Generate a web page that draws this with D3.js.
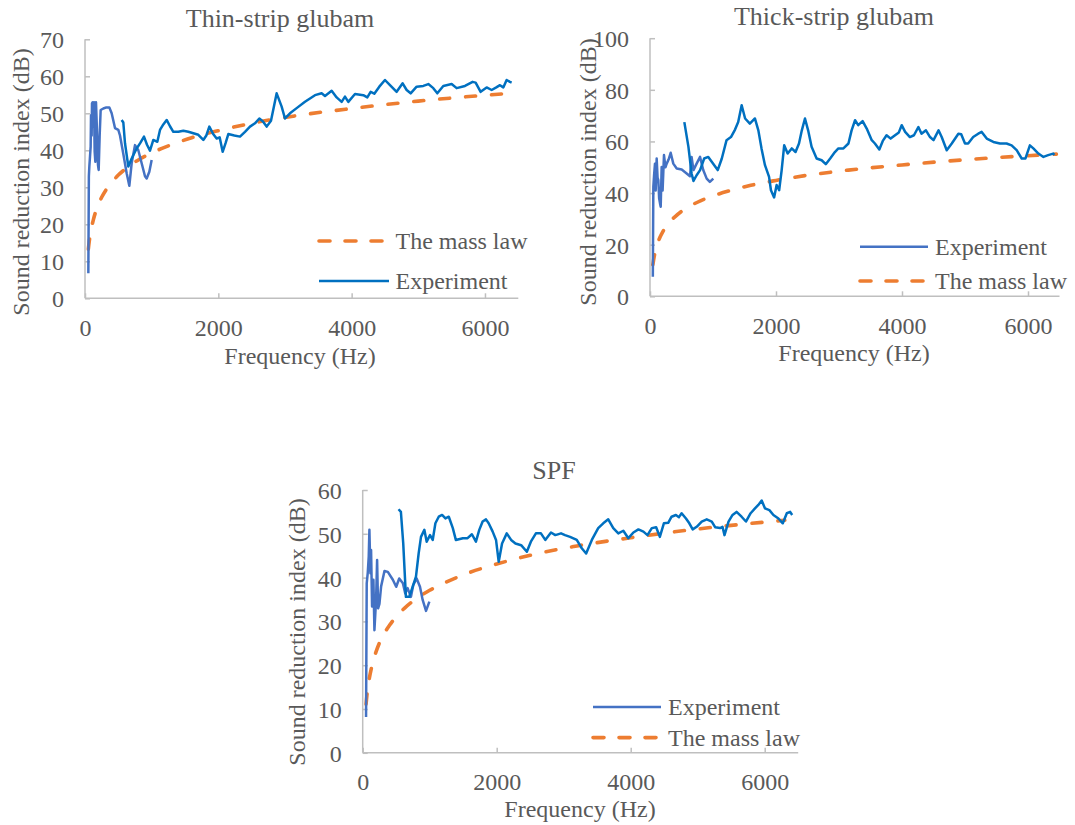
<!DOCTYPE html>
<html><head><meta charset="utf-8">
<script src="https://cdn.jsdelivr.net/npm/d3@7"></script>
<style>
body{margin:0;background:#fff}
text{font-family:"Liberation Serif","Times New Roman",serif;fill:#595959}
</style>
</head><body>
<svg id="chart" width="1075" height="825"></svg>
<script>
// ---------- data (frequency Hz, sound reduction index dB) ----------
const xTicks = [0, 2000, 4000, 6000];
const thinYTicks = [0, 10, 20, 30, 40, 50, 60, 70];
const thickYTicks = [0, 20, 40, 60, 80, 100];
const spfYTicks = [0, 10, 20, 30, 40, 50, 60];
const legendLabels = ["Experiment", "The mass law"];
const titles = ["Thin-strip glubam", "Thick-strip glubam", "SPF"];

const thinLow = [[50,6.8],[58,33],[65,35.6],[75,38.3],[85,41],[90,49.5],[100,44],[105,52.7],[115,53],[125,46.4],[135,53],[145,39.6],[155,36.9],[165,53],[180,45],[195,36],[205,34.7],[220,44],[235,50.9],[275,51.3],[320,51.6],[365,51.6],[400,50],[450,46],[500,45.5],[525,44],[575,39],[625,33.8],[665,30.4],[700,36.5],[750,41.4],[800,40],[850,36.5],[900,33],[925,32.4],[965,34.2],[1000,37.4]];
const thinMain = [[550,48.2],[575,47.5],[600,41.9],[650,35.6],[700,37.8],[775,40.5],[830,42],[885,43.7],[930,41.5],[975,39.9],[1025,42.8],[1085,42.3],[1125,45.5],[1175,47],[1225,48.2],[1275,46.5],[1325,45],[1400,45],[1475,45.3],[1550,45],[1625,44.6],[1700,44.2],[1775,42.8],[1820,44],[1865,46.4],[1920,44.5],[1975,43.2],[2020,43.5],[2065,39.6],[2110,42],[2150,44.4],[2240,44],[2325,43.7],[2400,45],[2475,46.4],[2550,47.3],[2615,48.6],[2670,47.8],[2725,46.4],[2790,48],[2875,55.4],[2950,51.8],[3000,48.6],[3075,50],[3175,51.4],[3300,53.1],[3450,54.9],[3550,55.4],[3600,54.7],[3700,56.1],[3775,54.3],[3850,53.1],[3900,54.5],[3950,53.1],[4050,55.2],[4175,54.9],[4235,54.3],[4285,55.8],[4340,55.3],[4415,57.2],[4500,59],[4575,57.6],[4675,55.8],[4765,58.1],[4825,56.3],[4885,55.4],[4975,57.2],[5075,57.4],[5150,57.9],[5225,56.8],[5285,55.4],[5375,57.4],[5500,57.9],[5575,56.8],[5700,57.4],[5815,58.5],[5860,58.3],[5935,55.8],[6025,57],[6100,56.3],[6170,57],[6225,57.6],[6275,57],[6325,59],[6375,58.5],[6400,58.3]];
const thinMass = [[50,13.3],[63,15.3],[80,17.4],[100,19.3],[125,21.2],[160,23.4],[200,25.3],[250,27.3],[315,29.3],[400,31.3],[500,33.3],[630,35.3],[800,37.4],[1000,39.3],[1250,41.2],[1600,43.4],[2000,45.3],[2500,47.3],[3150,49.3],[4000,51.3],[5000,53.3],[6300,55.3]];

const thickLow = [[45,7.6],[50,30],[53,42.4],[65,47],[79,51.4],[90,41],[106,53.4],[120,46],[132,45],[145,38],[159,36],[170,34.7],[185,50.1],[200,41],[222,54.7],[245,50],[265,51.4],[295,53],[328,55.6],[370,51.4],[424,49.5],[503,49.1],[582,47.6],[635,46.5],[660,54],[690,48.9],[740,51.4],[795,54],[845,48.9],[900,45.6],[950,44.3],[1005,45.6]];
const thickMain = [[545,67.5],[610,57.9],[660,47.6],[690,44.7],[740,46.9],[795,48.9],[860,53.4],[925,54],[980,52.1],[1075,48.9],[1140,53.4],[1215,60.5],[1285,61.7],[1350,64.6],[1400,67.5],[1455,74],[1510,68.9],[1585,66.9],[1665,68.9],[1720,64.3],[1770,57.3],[1825,50.8],[1890,46.3],[1920,41.1],[1970,38.3],[2010,43.1],[2050,41.1],[2090,48.9],[2130,58.5],[2185,55.3],[2250,57.3],[2310,55.9],[2365,59.2],[2410,64.3],[2460,68.9],[2510,64.3],[2565,57.9],[2645,53.4],[2725,52.7],[2790,51.2],[2860,53.4],[2935,55.9],[2990,57.3],[3070,57.3],[3150,59.2],[3200,64.3],[3255,68.2],[3305,66.3],[3375,67.9],[3440,65],[3520,60.5],[3570,59.2],[3640,56.9],[3695,60.2],[3755,62.4],[3820,61.1],[3890,62.4],[3950,63.5],[3995,66.3],[4050,63.7],[4125,61.7],[4190,62.4],[4260,65.6],[4310,63],[4380,64.3],[4445,61.7],[4500,60.5],[4580,64.3],[4630,61.7],[4710,56.6],[4790,59.2],[4895,63],[4940,62.8],[5000,59.2],[5050,59.2],[5130,61.7],[5210,63],[5265,63.7],[5345,61.1],[5450,59.8],[5555,59.2],[5660,59.2],[5740,58.5],[5820,56.6],[5900,53.4],[5960,53.4],[6030,58.5],[6085,57.3],[6165,55.3],[6245,54],[6320,54.7],[6400,55.3],[6420,54.8]];
const thickMass = [[45,12.2],[50,12.9],[63,14.9],[80,17.0],[100,18.9],[125,20.8],[160,23.0],[200,24.9],[250,26.9],[315,28.9],[400,30.9],[500,32.9],[630,34.9],[800,37.0],[1000,38.9],[1250,40.8],[1600,43.0],[2000,44.9],[2500,46.9],[3150,48.9],[4000,50.9],[5000,52.9],[6300,54.9],[6450,55.1]];

const spfLow = [[50,8.2],[60,38.7],[75,41],[90,44.8],[100,50.9],[115,41],[125,46.3],[140,33.4],[160,39.5],[175,28],[200,35],[215,44],[230,33],[250,34],[275,38],[325,41.5],[375,41.3],[450,39.5],[500,37.9],[545,39.8],[600,38.7],[635,36.4],[670,37.6],[720,35.6],[755,38.3],[805,39.8],[855,37.9],[895,34.9],[945,32.4],[995,34.5]];
const spfMain = [[535,55.6],[570,55],[605,47.8],[645,35.6],[695,35.6],[745,37.9],[795,40.2],[835,45.5],[870,49.3],[920,50.9],[955,48.2],[1005,49.7],[1045,48.6],[1085,52.4],[1135,53.9],[1185,54.3],[1235,53.5],[1285,53.9],[1345,51.3],[1390,48.6],[1495,49],[1565,49],[1630,49.9],[1690,48.2],[1740,50.9],[1790,52.8],[1840,53.3],[1880,52.4],[1940,50.5],[1990,48.6],[2030,43.6],[2080,47.8],[2150,50.1],[2215,48.6],[2280,47.8],[2365,47.4],[2450,45.9],[2510,48.2],[2585,50.1],[2660,50.1],[2725,48.6],[2810,50.3],[2875,49.7],[2960,50.1],[3020,49.7],[3095,49.3],[3195,48.6],[3270,46.7],[3335,45.5],[3420,48.6],[3515,51.3],[3590,52.4],[3665,53.3],[3740,51.3],[3815,50.1],[3890,50.7],[3965,49],[4040,50.3],[4115,51],[4190,50.5],[4250,49.7],[4315,51.3],[4380,51.5],[4435,49.3],[4495,52.4],[4560,52.5],[4610,53.9],[4675,54.3],[4720,53.8],[4760,54.7],[4825,53.5],[4875,52.4],[4925,51],[4985,51.6],[5060,52.8],[5135,53.3],[5210,52.8],[5260,51.5],[5335,51.3],[5370,51.6],[5400,49.7],[5460,52.8],[5520,54.3],[5580,55],[5655,53.9],[5720,52.8],[5790,54.7],[5855,55.8],[5905,56.6],[5955,57.6],[6005,55.8],[6070,55.4],[6130,54.3],[6205,53.5],[6270,52.4],[6330,54.7],[6380,55],[6410,54.3]];
const spfMass = [[50,11.1],[63,13.1],[80,15.2],[100,17.1],[125,19.0],[160,21.2],[200,23.1],[250,25.1],[315,27.1],[400,29.1],[500,31.1],[630,33.1],[800,35.2],[1000,37.1],[1250,39.0],[1600,41.2],[2000,43.1],[2500,45.1],[3150,47.1],[4000,49.1],[5000,51.1],[6300,53.1]];

// ---------- layout / styling ----------
const C_MAIN = "#0070C0", C_LOW = "#4472C4", C_MASS = "#ED7D31";
const FS = 24;
const panels = [
  {title: titles[0], low: thinLow, main: thinMain, mass: thinMass, yTicks: thinYTicks, yMax: 70,
   x0: 85, x1: 518.3, yb: 298.3, yt: 39.3, tX: 280, tY: 27, xtX: 300, xtY: 364, ytX: 20.5, ytY: 182,
   leg: {l1: 319, l2: 389, tx: 395.5, rows: [["mass", 241], ["exp", 281]], expColor: C_MAIN}},
  {title: titles[1], low: thickLow, main: thickMain, mass: thickMass, yTicks: thickYTicks, yMax: 100,
   x0: 650, x1: 1059.5, yb: 296.3, yt: 38.2, tX: 834, tY: 25, xtX: 854, xtY: 361, ytX: 587.5, ytY: 172,
   leg: {l1: 860, l2: 928, tx: 935, rows: [["exp", 246.7], ["mass", 281]], expColor: C_LOW}},
  {title: titles[2], low: spfLow, main: spfMain, mass: spfMass, yTicks: spfYTicks, yMax: 60,
   x0: 362.7, x1: 798.2, yb: 752.8, yt: 490, tX: 554, tY: 479, xtX: 580, xtY: 817, ytX: 297, ytY: 632,
   leg: {l1: 593, l2: 661, tx: 668, rows: [["exp", 707], ["mass", 737.6]], expColor: C_LOW}}
];

const svg = d3.select("#chart");

panels.forEach(p => {
  const x = d3.scaleLinear().domain([0, 6500]).range([p.x0, p.x1]);
  const y = d3.scaleLinear().domain([0, p.yMax]).range([p.yb, p.yt]);
  const g = svg.append("g");

  // axes
  const ax = g.append("g").attr("transform", `translate(0,${p.yb})`)
    .call(d3.axisBottom(x).tickValues(xTicks).tickSizeInner(-5).tickSizeOuter(0).tickFormat(d3.format("d")));
  const ay = g.append("g").attr("transform", `translate(${p.x0},0)`)
    .call(d3.axisLeft(y).tickValues(p.yTicks).tickSizeInner(-5).tickSizeOuter(0).tickFormat(d3.format("d")));
  [ax, ay].forEach(a => {
    a.select(".domain").attr("stroke", "#bfbfbf").attr("stroke-width", 1.5);
    a.selectAll(".tick line").attr("stroke", "#bfbfbf").attr("stroke-width", 1.5);
    a.selectAll("text").attr("font-size", FS).attr("fill", "#595959")
      .style("font-family", '"Liberation Serif","Times New Roman",serif');
  });
  ax.selectAll("text").attr("y", 29).attr("dy", "0.35em");
  ay.selectAll("text").attr("x", -21).attr("dy", "0.35em");
  ax.select(".domain").attr("d", `M${p.x0},0H${p.x1}`);
  ay.select(".domain").attr("d", `M0,${p.yb}V${p.yt}`);

  // lines
  const line = d3.line().x(d => x(d[0])).y(d => y(d[1]));
  const smooth = d3.line().x(d => x(d[0])).y(d => y(d[1])).curve(d3.curveMonotoneX);
  g.append("path").datum(p.mass).attr("d", smooth).attr("fill", "none")
    .attr("stroke", C_MASS).attr("stroke-width", 3.6).attr("stroke-dasharray", "10,16").attr("stroke-linecap", "round");
  g.append("path").datum(p.low).attr("d", line).attr("fill", "none")
    .attr("stroke", C_LOW).attr("stroke-width", 2.5).attr("stroke-linejoin", "round");
  g.append("path").datum(p.main).attr("d", line).attr("fill", "none")
    .attr("stroke", C_MAIN).attr("stroke-width", 2.5).attr("stroke-linejoin", "round");

  // titles
  g.append("text").attr("x", p.tX).attr("y", p.tY).attr("text-anchor", "middle")
    .attr("font-size", 26).text(p.title);
  g.append("text").attr("x", p.xtX).attr("y", p.xtY).attr("text-anchor", "middle")
    .attr("font-size", FS).text("Frequency (Hz)");
  g.append("text").attr("transform", `translate(${p.ytX},${p.ytY}) rotate(-90)`)
    .attr("text-anchor", "middle").attr("dy", "0.35em")
    .attr("font-size", FS).text("Sound reduction index (dB)");

  // legend
  p.leg.rows.forEach(([k, ly]) => {
    const isExp = k === "exp";
    g.append("line").attr("x1", p.leg.l1).attr("x2", p.leg.l2).attr("y1", ly).attr("y2", ly)
      .attr("stroke", isExp ? p.leg.expColor : C_MASS)
      .attr("stroke-width", isExp ? 2.5 : 3.6)
      .attr("stroke-dasharray", isExp ? null : "11,15")
      .attr("stroke-linecap", isExp ? "butt" : "round");
    g.append("text").attr("x", p.leg.tx).attr("y", ly).attr("dy", "0.35em")
      .attr("font-size", FS).text(isExp ? legendLabels[0] : legendLabels[1]);
  });
});
</script>
</body></html>
